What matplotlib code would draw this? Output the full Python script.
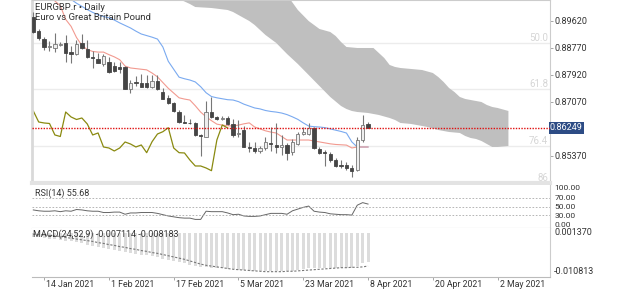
import numpy as np
import matplotlib
matplotlib.use("Agg")
import matplotlib.pyplot as plt
from matplotlib.transforms import ScaledTranslation

plt.rcParams['font.family'] = ['Roboto', 'DejaVu Sans']

# ---- data ----
opens = [0.89746, 0.89305, 0.89053, 0.88801, 0.88769, 0.88879, 0.88927, 0.88643, 0.88580, 0.88927,
         0.88738, 0.88486, 0.88423, 0.88265, 0.88328, 0.88202, 0.88171, 0.88171, 0.87478, 0.87698,
         0.87667, 0.87667, 0.87541, 0.87730, 0.87383, 0.87194, 0.87037, 0.86753, 0.86438, 0.86407,
         0.86407, 0.86029, 0.85966, 0.86753, 0.86596, 0.86517, 0.86564, 0.86359, 0.86060, 0.86186,
         0.85660, 0.85619, 0.85525, 0.85619, 0.85786, 0.85714, 0.85651, 0.85714, 0.85493, 0.85745,
         0.86060, 0.86060, 0.86258, 0.85588, 0.85502, 0.85430, 0.85241, 0.85084, 0.85084, 0.84989,
         0.84926, 0.85871, 0.86375]
highs = [0.89903, 0.89368, 0.89116, 0.88990, 0.89242, 0.88958, 0.89179, 0.88832, 0.89021, 0.89210,
         0.89021, 0.88675, 0.88612, 0.88580, 0.88486, 0.88328, 0.88328, 0.88202, 0.87761, 0.87887,
         0.87950, 0.87919, 0.87919, 0.87919, 0.87509, 0.87289, 0.87068, 0.86816, 0.86659, 0.86533,
         0.86438, 0.86060, 0.87100, 0.87226, 0.86627, 0.86627, 0.86627, 0.86533, 0.86501, 0.86312,
         0.85808, 0.85808, 0.85682, 0.85966, 0.86281, 0.86407, 0.86029, 0.85777, 0.85903, 0.86123,
         0.86281, 0.86407, 0.86281, 0.85651, 0.85556, 0.85502, 0.85304, 0.85241, 0.85187, 0.85084,
         0.85966, 0.86659, 0.86447]
lows = [0.89242, 0.89021, 0.88706, 0.88675, 0.88643, 0.88832, 0.88328, 0.88297, 0.88549, 0.88738,
        0.88454, 0.88139, 0.88297, 0.88202, 0.87982, 0.88013, 0.87982, 0.87478, 0.87352, 0.87572,
        0.87541, 0.87509, 0.87509, 0.87446, 0.87163, 0.87005, 0.86753, 0.86407, 0.86391, 0.86375,
        0.85997, 0.85367, 0.85950, 0.86564, 0.86501, 0.86501, 0.86328, 0.85950, 0.85966, 0.85635,
        0.85493, 0.85462, 0.85462, 0.85556, 0.85525, 0.85462, 0.85399, 0.85241, 0.85399, 0.85714,
        0.86029, 0.86029, 0.85588, 0.85430, 0.85052, 0.85187, 0.85021, 0.84989, 0.84926, 0.84715,
        0.84904, 0.85817, 0.86249]
closes = [0.89273, 0.89084, 0.88801, 0.88832, 0.88895, 0.88895, 0.88612, 0.88580, 0.88895, 0.88769,
          0.88486, 0.88454, 0.88297, 0.88517, 0.88013, 0.88045, 0.88108, 0.87478, 0.87667, 0.87667,
          0.87541, 0.87541, 0.87730, 0.87478, 0.87163, 0.87037, 0.86785, 0.86438, 0.86407, 0.86391,
          0.86029, 0.85981, 0.86753, 0.86596, 0.86517, 0.86564, 0.86375, 0.86029, 0.86092, 0.85651,
          0.85619, 0.85525, 0.85619, 0.85808, 0.85745, 0.85651, 0.85714, 0.85471, 0.85817, 0.86060,
          0.86132, 0.86258, 0.85619, 0.85471, 0.85462, 0.85241, 0.85052, 0.85052, 0.84989, 0.84904,
          0.85871, 0.86344, 0.86249]

tenkan = [0.9080, 0.9070, 0.9060, 0.9045, 0.9025, 0.9010, 0.8967, 0.8945, 0.8910, 0.8885,
          0.8872, 0.8866, 0.8864, 0.8864, 0.8856, 0.8849, 0.8840, 0.8820, 0.8814, 0.8812,
          0.8810, 0.8808, 0.8798, 0.8786, 0.8768, 0.8750, 0.8735, 0.8720, 0.8716, 0.8713,
          0.8695, 0.8675, 0.8660, 0.8648, 0.8637, 0.8634, 0.8632, 0.8631, 0.8634, 0.8638,
          0.8641, 0.8628, 0.8622, 0.8616, 0.8612, 0.8609, 0.8598, 0.8587, 0.8587, 0.8587,
          0.8587, 0.8587, 0.8584, 0.8581, 0.8578, 0.8575, 0.8573, 0.8572, 0.8571, 0.8562,
          0.8565, 0.8565, 0.8565]
kijun = [0.9120, 0.9110, 0.9095, 0.9080, 0.9065, 0.9050, 0.9038, 0.9030, 0.9018, 0.9008,
         0.8998, 0.8989, 0.8982, 0.8976, 0.8972, 0.8965, 0.8956, 0.8948, 0.8940, 0.8930,
         0.8921, 0.8916, 0.8911, 0.8905, 0.8880, 0.8835, 0.8810, 0.8785, 0.8780, 0.8776,
         0.8770, 0.8755, 0.8736, 0.8724, 0.8720, 0.8717, 0.8714, 0.8713, 0.8708, 0.8700,
         0.8694, 0.8688, 0.8685, 0.8680, 0.8677, 0.8675, 0.8672, 0.8667, 0.8660, 0.8652,
         0.8641, 0.8631, 0.8629, 0.8628, 0.8626, 0.8622, 0.8618, 0.8614, 0.8609, 0.8581,
         0.8565, 0.8565, 0.8565]

# cloud edges (bar index, price)
cloud_top_idx = [27, 35, 40, 44, 47, 49, 51, 52, 53, 55, 56, 57, 58, 60, 63, 64, 65, 66, 67, 68,
                 72, 74, 75, 76, 77, 78, 79, 80, 81, 83, 84, 85, 86, 88]
cloud_top = [0.9160, 0.9140, 0.9120, 0.90911, 0.90439, 0.89966, 0.89619, 0.89494, 0.89368, 0.89273,
             0.89147, 0.88958, 0.88801, 0.88769, 0.88769, 0.88612, 0.88454, 0.88234, 0.88171, 0.88139,
             0.88076, 0.87982, 0.87856, 0.87698, 0.87509, 0.87383, 0.87226, 0.87163, 0.87131, 0.87068,
             0.86974, 0.86911, 0.86879, 0.86785]
cloud_bot_idx = [27, 29, 30, 33, 36, 37, 40, 41, 42, 43, 45, 47, 49, 51, 53, 55, 57, 58, 59, 60,
                 62, 64, 66, 67, 68, 70, 71, 73, 75, 77, 79, 80, 81, 82, 83, 85, 86, 88]
cloud_bot = [0.90313, 0.90155, 0.90060, 0.90029, 0.89966, 0.89903, 0.89619, 0.89494, 0.89336, 0.89179,
             0.88927, 0.88580, 0.88265, 0.87919, 0.87572, 0.87226, 0.86942, 0.86848, 0.86785, 0.86753,
             0.86722, 0.86659, 0.86564, 0.86501, 0.86407, 0.86375, 0.86344, 0.86281, 0.86186, 0.86123,
             0.86092, 0.85997, 0.85934, 0.85903, 0.85840, 0.85651, 0.85651, 0.85682]

fib_levels = [0.88927, 0.87478, 0.85682, 0.84516]
fib_labels = ['50.0', '61.8', '76.4', '86']

rsi = [42, 40, 39, 39, 40, 38, 40, 39, 43, 42, 40, 39, 39, 36, 36, 37, 37, 32, 35, 35,
       36, 36, 36, 34, 31, 28, 26, 24, 23, 23, 20, 20, 39, 38, 38, 38, 35, 31, 32, 28,
       27, 27, 28, 31, 34, 34, 34, 32, 40, 44, 48, 51, 39, 37, 36, 33, 32, 31, 31, 30,
       53, 59, 55.68]

macd = [-0.0008, -0.0010, -0.0012, -0.0013, -0.0015, -0.0017, -0.0018, -0.0020, -0.0022, -0.0025,
        -0.0028, -0.0031, -0.0033, -0.0036, -0.0039, -0.0042, -0.0044, -0.0047, -0.0049, -0.0051,
        -0.0053, -0.0055, -0.0057, -0.0060, -0.0063, -0.0066, -0.0069, -0.0072, -0.0075, -0.0078,
        -0.0082, -0.0085, -0.0085, -0.0086, -0.0087, -0.0088, -0.0089, -0.0090, -0.0091, -0.0093,
        -0.0094, -0.0095, -0.0095, -0.0095, -0.0095, -0.0095, -0.0095, -0.0095, -0.0094, -0.0092,
        -0.0089, -0.0087, -0.0087, -0.0087, -0.0087, -0.0087, -0.0086, -0.0086, -0.0086, -0.0086,
        -0.0083, -0.0075, -0.007114]
signal = [-0.0002, -0.0003, -0.0004, -0.0005, -0.0006, -0.0008, -0.0010, -0.0012, -0.0014, -0.0016,
          -0.0018, -0.0020, -0.0023, -0.0025, -0.0028, -0.0030, -0.0033, -0.0035, -0.0038, -0.0040,
          -0.0043, -0.0045, -0.0048, -0.0050, -0.0053, -0.0056, -0.0059, -0.0062, -0.0065, -0.0069,
          -0.0073, -0.0077, -0.0080, -0.0082, -0.0084, -0.0086, -0.0088, -0.0090, -0.0091, -0.0092,
          -0.0093, -0.0094, -0.0095, -0.0096, -0.0096, -0.0096, -0.0096, -0.0095, -0.0095, -0.0094,
          -0.0093, -0.0092, -0.0091, -0.0090, -0.0089, -0.0088, -0.0087, -0.0086, -0.0086, -0.0085,
          -0.0085, -0.0084, -0.008183]

price_ticks = [0.89620, 0.88770, 0.87920, 0.87070, 0.85370]
last_price = 0.86249
rsi_ticks = [100, 70, 50, 30, 0]
macd_ticks = [0.001370, -0.010813]
date_pos = [2, 14, 26, 38, 50, 62, 74, 86]
date_labels = ['14 Jan 2021', '1 Feb 2021', '17 Feb 2021', '5 Mar 2021',
               '23 Mar 2021', '8 Apr 2021', '20 Apr 2021', '2 May 2021']

# ---- figure ----
W, H = 625, 289
fig = plt.figure(figsize=(6.25, 2.89), dpi=100)
L, Wd = 32 / W, 518 / W
ax = fig.add_axes([L, 1 - 183 / H, Wd, 183 / H])
ax_rsi = fig.add_axes([L, 1 - 228 / H, Wd, 43 / H])
ax_m = fig.add_axes([L, 1 - 276.5 / H, Wd, 48.5 / H])

xlim = (-0.24, 95.7)
txt_c = '#333333'
fs = 6.5

idx = np.arange(len(closes))
o = np.array(opens); c = np.array(closes); h = np.array(highs); lo = np.array(lows)

# cloud
ax.fill(np.r_[cloud_top_idx, cloud_bot_idx[::-1]], np.r_[cloud_top, cloud_bot[::-1]],
        color='#bfbfbf', lw=0, zorder=1)

# fibo levels
for lv, lb in zip(fib_levels, fib_labels):
    ax.axhline(lv, color='#ececec', lw=1, zorder=0.5)
    ax.text(95.4, lv, lb, ha='right', va='bottom', fontsize=fs + 0.5, color='#d6d6d6',
            clip_on=True, zorder=0.6)

# ichimoku lines
ax.plot(idx, kijun, color='#7aaaf0', lw=0.8, zorder=2)
ax.plot(idx, tenkan, color='#f29a90', lw=0.8, zorder=2)
ax.plot(idx[:-26], c[26:], color='#8a8a10', lw=0.9, zorder=2)

# candles
up = c >= o
ax.vlines(idx, lo, h, color='#777777', lw=0.8, zorder=3)
body_b = np.minimum(o, c)
body_h = np.maximum(np.abs(c - o), 0.00012)
ax.bar(idx[up], body_h[up], bottom=body_b[up], width=0.6, color='#eeeeee',
       edgecolor='#777777', lw=0.6, zorder=4)
ax.bar(idx[~up], body_h[~up], bottom=body_b[~up], width=0.6, color='#454545',
       edgecolor='#454545', lw=0.6, zorder=4)

# current price
ax.axhline(last_price, color='#e01010', lw=1.0, ls=(0, (1, 1)), zorder=5)

ax.set_xlim(*xlim)
ax.set_ylim(0.84516, 0.90281)
ax.yaxis.tick_right()
ax.set_yticks(price_ticks)
ax.set_yticklabels(['%.5f' % v for v in price_ticks])
ax.tick_params(axis='y', length=2, width=0.6, color='#999999', labelsize=fs,
               labelcolor=txt_c, pad=1.5)
ax.set_xticks([])
ax.text(1.0, last_price, '%.5f' % last_price, transform=ax.get_yaxis_transform(),
        ha='left', va='center', fontsize=fs, color='white',
        bbox=dict(boxstyle='square,pad=0.15', fc='#2d4c85', ec='none'))
ax.text(0.006, 0.985, 'EURGBP.r \u2022 Daily', transform=ax.transAxes, ha='left', va='top',
        fontsize=fs + 0.3, color=txt_c)
ax.text(0.006, 0.928, 'Euro vs Great Britain Pound', transform=ax.transAxes, ha='left',
        va='top', fontsize=fs + 0.3, color=txt_c)
for s in ['top', 'right']:
    ax.spines[s].set_color('#cccccc'); ax.spines[s].set_linewidth(0.8)
ax.spines['left'].set_color('#d9d9d9'); ax.spines['left'].set_linewidth(2)
ax.spines['bottom'].set_color('#e3e3e3'); ax.spines['bottom'].set_linewidth(3)

# RSI
ax_rsi.plot(idx, rsi, color='#666666', lw=0.7)
for lv in [70, 50, 30]:
    ax_rsi.axhline(lv, color='#aaaaaa', lw=0.6, ls=(0, (2, 2)))
ax_rsi.set_xlim(*xlim)
ax_rsi.set_ylim(0, 100)
ax_rsi.yaxis.tick_right()
ax_rsi.set_yticks(rsi_ticks)
ax_rsi.set_yticklabels(['%.2f' % v for v in rsi_ticks])
ax_rsi.tick_params(axis='y', length=0, labelsize=fs - 0.5, labelcolor=txt_c, pad=3)
tl = ax_rsi.get_yticklabels()
tl[0].set_va('top'); tl[-1].set_va('bottom')
ax_rsi.set_xticks([])
ax_rsi.text(0.005, 0.93, 'RSI(14) %.2f' % rsi[-1], transform=ax_rsi.transAxes, ha='left',
            va='top', fontsize=fs, color=txt_c)
for s in ['top', 'left']:
    ax_rsi.spines[s].set_visible(False)
ax_rsi.spines['right'].set_color('#cccccc'); ax_rsi.spines['right'].set_linewidth(0.8)
ax_rsi.spines['bottom'].set_color('#bbbbbb'); ax_rsi.spines['bottom'].set_linewidth(0.8)

# MACD
ax_m.bar(idx, macd, width=0.55, color='#dcdcdc', zorder=1)
ax_m.plot(idx, signal, color='#777777', lw=0.8, ls=(0, (2, 1.5)), zorder=2)
ax_m.set_xlim(*xlim)
ax_m.set_ylim(macd_ticks[1], macd_ticks[0])
ax_m.yaxis.tick_right()
ax_m.set_yticks(macd_ticks)
ax_m.set_yticklabels(['%.6f' % v for v in macd_ticks])
ax_m.tick_params(axis='y', length=0, labelsize=fs, labelcolor=txt_c, pad=3)
ml = ax_m.get_yticklabels()
ml[0].set_va('top'); ml[-1].set_va('bottom')
ax_m.set_xticks(date_pos)
ax_m.set_xticklabels(date_labels, ha='left')
ax_m.tick_params(axis='x', length=2, width=0.6, color='#999999', labelsize=fs - 0.2,
                 labelcolor=txt_c, pad=0.3)
off = ScaledTranslation(2 / 100, 0, fig.dpi_scale_trans)
for t in ax_m.get_xticklabels():
    t.set_transform(t.get_transform() + off)
ax_m.text(0.002, 0.97, 'MACD(24,52,9) %.6f %.6f' % (macd[-1], signal[-1]),
          transform=ax_m.transAxes, ha='left', va='top', fontsize=fs, color=txt_c, zorder=5)
for s in ['top', 'left']:
    ax_m.spines[s].set_visible(False)
ax_m.spines['right'].set_color('#cccccc'); ax_m.spines['right'].set_linewidth(0.8)
ax_m.spines['bottom'].set_color('#bbbbbb'); ax_m.spines['bottom'].set_linewidth(0.8)

fig.savefig('out.png', dpi=100, facecolor='white')
